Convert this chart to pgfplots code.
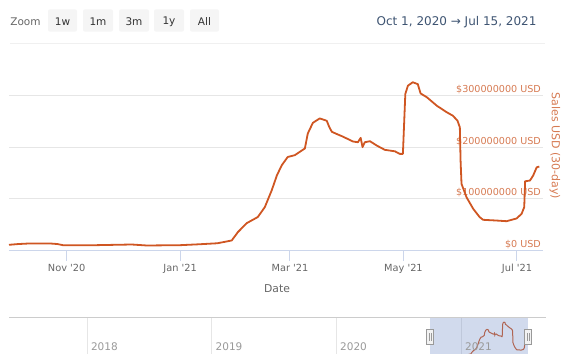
\documentclass[border=0pt]{standalone}
\usepackage{pgfplots}
\pgfplotsset{compat=1.18}
\usepackage{pgfplotstable}
\usepackage{fontspec}
\setmainfont{DejaVu Sans}
\definecolor{lineorange}{RGB}{207,86,34}
\definecolor{labelorange}{RGB}{214,122,82}
\definecolor{axgray}{RGB}{204,214,235}
\definecolor{gridgray}{RGB}{230,230,230}
\definecolor{txtgray}{RGB}{102,102,102}
\definecolor{btnbg}{RGB}{245,245,245}
\definecolor{btntxt}{RGB}{51,51,51}
\definecolor{rangeblue}{RGB}{62,84,114}
\definecolor{maskblue}{RGB}{102,133,194}
\definecolor{navline}{RGB}{204,204,204}
\definecolor{handlefill}{RGB}{242,242,242}
\definecolor{handledraw}{RGB}{153,153,153}
\newcommand\fs[1]{\fontsize{#1}{#1}\selectfont}

% day 0 = Oct 1, 2020 ; values in millions of USD
\pgfplotstableread{
day val
0 11
5 12.5
11 13.6
22 13.6
26 12.5
29 10.3
42 10
66 11.6
74 9.7
92 10.3
102 12
112 14
119.7 19.4
123 35.5
125.6 45
127.8 53
133.7 64.7
137.5 84
141.2 116.5
144 145.6
146.6 165
149.8 181
153.6 184.5
159 197.4
160.6 226.6
163.3 247
167 255.7
170.8 251
172 240
173.5 229.7
176.7 224.6
179.4 220.5
184.8 211
187.5 209.5
189 218
190 200
191.2 209.5
194 211.5
197.7 203
202 194.8
207.4 192
210 187
211.7 187
213 303
214.4 319
217 325.6
219.7 322
221.2 304
224.6 296.5
230 280
235.3 267.5
238.5 261
241 251.5
242.3 238.5
242.7 174
243.2 129
245.9 103
249.5 80.6
253 64.4
254.8 59.4
262 58
267.4 56.7
272.8 62
275.5 71
276.9 83.8
277.4 134
280 135.4
281.7 145
283.6 161
285 162.5
}\salesdata

\begin{document}
\begin{tikzpicture}
\useasboundingbox (0pt,0pt) rectangle (577pt,353pt);
\clip (0pt,0pt) rectangle (577pt,353pt);

\begin{scope}[x=1pt,y=1pt]
% range selector
\node[txtgray, font=\fs{10.5}] at (25.5,331) {Zoom};
\foreach \xa/\xb/\t in {48/77/1w, 83/113/1m, 119/149/3m, 154/184/1y, 190/219/All}{
  \fill[btnbg, rounded corners=2pt] (\xa,321.3) rectangle (\xb,343.7);
  \node[btntxt, font=\fs{10.5}] at ({(\xa+\xb)/2},331) {\t};
}
\node[rangeblue, anchor=east, font=\fs{12}] at (540,331) {Oct 1, 2020 → Jul 15, 2021};
\draw[gridgray!60, line width=0.8pt] (10,310) -- (545,310);
\end{scope}

% main chart
\begin{axis}[
  at={(9pt,102.5pt)}, anchor=south west, scale only axis,
  width=534pt, height=206pt,
  xmin=0, xmax=287, ymin=0, ymax=398.7,
  axis x line*=bottom, axis y line*=right,
  x axis line style={axgray, line width=1pt, -},
  y axis line style={draw=none},
  ytick={0,100,200,300},
  yticklabels={\$0 USD, \$100000000 USD, \$200000000 USD, \$300000000 USD},
  ymajorgrids, major grid style={gridgray, line width=1pt},
  y tick style={draw=none},
  yticklabel pos=right,
  yticklabel style={anchor=base east, text=labelorange, font=\fs{9.6}, inner sep=0pt, xshift=-12pt, yshift=3pt},
  xtick={31,92,151,212,273},
  xticklabels={Nov \textquotesingle20, Jan \textquotesingle21, Mar \textquotesingle21, May \textquotesingle21, Jul \textquotesingle21},
  x tick style={axgray, line width=1pt},
  tick align=outside, major tick length=10pt,
  xticklabel style={text=txtgray, font=\fs{9.8}},
]
\addplot[lineorange, line width=1.8pt, line join=round] table[x=day, y=val]{\salesdata};
\end{axis}

% navigator
\begin{axis}[
  at={(9pt,-3pt)}, anchor=south west, scale only axis,
  width=537pt, height=38pt,
  xmin=-1233, xmax=340, ymin=0, ymax=365,
  axis line style={draw=none},
  xtick={-1004,-639,-274,92}, xticklabels={},
  ytick=\empty, major tick length=0pt,
  xmajorgrids, major grid style={gridgray, line width=1pt},
]
\addplot[lineorange, line width=1pt] table[x=day, y=val]{\salesdata};
\fill[maskblue, opacity=0.3] (axis cs:0,0) rectangle (axis cs:287,365);
\end{axis}

\begin{scope}[x=1pt,y=1pt]
\node[labelorange, rotate=-90, font=\fs{11}] at (555,207) {Sales USD (30-day)};
\node[txtgray, font=\fs{10.8}] at (277,64) {Date};
\draw[navline, line width=1pt] (9,35.5) -- (546,35.5);
\foreach \g/\yr in {87.3/2018, 212/2019, 336.5/2020, 461.4/2021}{
  \node[anchor=base west, text=handledraw, font=\fs{10.5}, inner sep=0pt] at (\g+3.5,2.5) {\yr};
}
\foreach \h in {430,528}{
  \filldraw[fill=handlefill, draw=handledraw, line width=0.8pt] (\h-3.5,9) rectangle (\h+3.5,24);
  \draw[handledraw, line width=0.6pt] (\h-1,12.5) -- (\h-1,20.5) (\h+1,12.5) -- (\h+1,20.5);
}
\end{scope}
\end{tikzpicture}
\end{document}
